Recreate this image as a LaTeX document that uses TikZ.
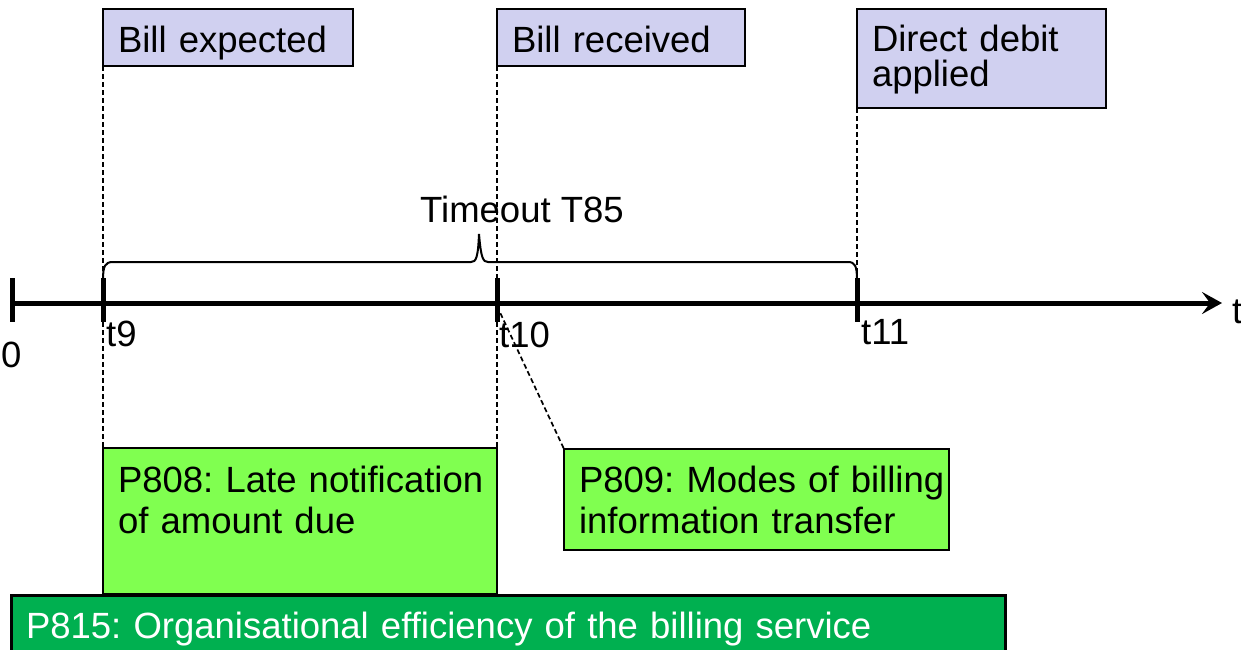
\documentclass[tikz,border=0pt]{standalone}
\usepackage{fontspec}
\setmainfont{Liberation Sans}
\usetikzlibrary{arrows.meta}
\definecolor{eventblue}{RGB}{208,208,240}
\definecolor{lightgreen}{RGB}{128,255,80}
\definecolor{darkgreen}{RGB}{0,176,80}
\frenchspacing
\tikzset {
  % boxes above the time line
  event/.style = {draw, line width=1.5pt, fill=eventblue, anchor=north west,
    outer sep=0pt, inner xsep=15pt, inner ysep=0pt, align=left},
  % boxes below the time line
  param/.style = {event, fill=lightgreen},
  overall/.style = {event, line width=3pt, fill=darkgreen, text=white},
  % the time line itself
  timeaxis/.style = {line width=5pt, -{Stealth[length=20pt,width=22pt,inset=8pt]}},
  timetick/.style = {line width=5pt},
  ticklabel/.style = {anchor=base west, inner sep=0pt},
  guide/.style = {line width=1.7pt, dash pattern=on 5pt off 3pt},
  bracket/.style = {line width=2pt},
}

\begin{document}
\begin{tikzpicture}[x=1pt, y=-1pt, font=\fontsize{36.5}{41}\selectfont]
  \useasboundingbox (0,0) rectangle (1241,649);
  \clip (0,0) rectangle (1241,649);

  % events
  \node[event, text width=220pt, text height=43pt, text depth=14pt] (bexp) at (103,9) {Bill expected};
  \node[event, text width=218pt, text height=43pt, text depth=14pt] (brec) at (497,9) {Bill received};
  \node[event, text width=219pt, text height=42pt, text depth=57pt,
        font=\fontsize{36.5}{35}\selectfont] (ddeb) at (857,9) {Direct debit\\applied};

  % parameters
  \node[param, text width=364pt, text height=44pt, text depth=102pt] (p808) at (103,448)
    {\mbox{P808: Late notification}\\of amount due};
  \node[param, text width=355pt, text height=43pt, text depth=58pt] (p809) at (564,449)
    {\mbox{P809: Modes of billing}\\information transfer};
  \node[overall, text width=964pt, text height=43pt, text depth=60pt] (p815) at (11,595)
    {P815: Organisational efficiency of the billing service};

  % time line
  \coordinate (t0) at (12,303);
  \coordinate (t9) at (103,303);
  \coordinate (t10) at (497,303);
  \coordinate (t11) at (857,303);
  \coordinate (tend) at (1222,303);

  \draw[guide] (bexp.south west) -- (p808.north west);
  \draw[guide] (brec.south west) -- (p808.north east);
  \draw[guide] (ddeb.south west) -- ([yshift=25pt]t11);
  \draw[guide] ([yshift=-3pt]t10) -- (p809.north west);

  \draw[timeaxis] (t0) -- (tend);
  \foreach \t in {t0,t9,t10,t11}
    \draw[timetick] ([yshift=25pt]\t) -- ([yshift=-19pt]\t);

  \node[ticklabel] (l0) at (1,367) {0};
  \node[ticklabel] (l9) at (106,346) {t9};
  \node[ticklabel] (l10) at (499,347) {t10};
  \node[ticklabel] (l11) at (861,344) {t11};
  \node[ticklabel] (lt) at (1232,323) {t};

  % timeout bracket
  \draw[bracket] (103,280) .. controls (103,266) and (105,262) .. (113,262) -- (471,262)
    .. controls (476,262) and (478,258) .. (479,234) .. controls (481,258) and (483,262) .. (488,262)
    -- (848,262) .. controls (855,262) and (857,266) .. (857,280);
  \node[ticklabel] (tout) at (420,222) {Timeout T85};
\end{tikzpicture}
\end{document}
